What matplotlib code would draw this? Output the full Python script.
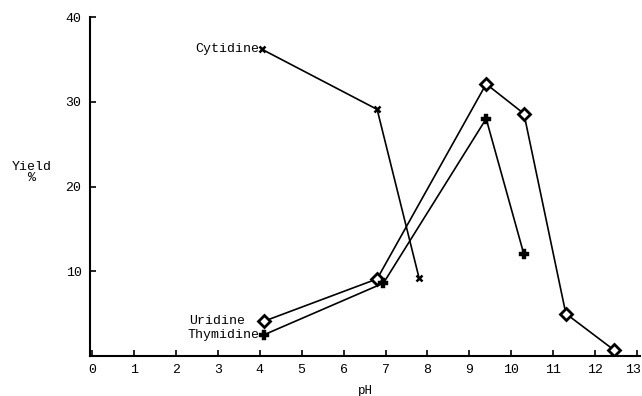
import matplotlib
matplotlib.use('Agg')
import matplotlib.pyplot as plt
import matplotlib.transforms as mtransforms

plt.rcParams['font.family'] = ['Liberation Mono', 'DejaVu Sans Mono']

# Data
cyt_ph = [4.05, 6.8, 7.8]
cyt_yield = [36.2, 29.1, 9.2]

uri_ph = [4.1, 6.8, 9.4, 10.3, 11.3, 12.45]
uri_yield = [4.1, 9.1, 32.1, 28.6, 5.0, 0.7]

thy_ph = [4.1, 6.95, 9.4, 10.3]
thy_yield = [2.5, 8.6, 28.0, 12.0]

xticks = list(range(0, 14))
yticks = [10, 20, 30, 40]

fig = plt.figure(figsize=(6.42, 3.96), dpi=100)
ax = fig.add_axes([0.140, 0.101, 0.857, 0.856])

ax.plot(cyt_ph, cyt_yield, color='black', lw=1.2, marker='x', ms=5, mew=1.8)
ax.plot(uri_ph, uri_yield, color='black', lw=1.2, marker='D', ms=6,
        mfc='white', mec='black', mew=2)
ax.plot(thy_ph, thy_yield, color='black', lw=1.2, marker='P', ms=7,
        mfc='black', mec='black', mew=0.3)

ax.text(cyt_ph[0] - 0.05, cyt_yield[0], 'Cytidine', ha='right', va='center', fontsize=9.5)
ax.text(uri_ph[0] - 0.45, uri_yield[0], 'Uridine', ha='right', va='center', fontsize=9.5)
ax.text(thy_ph[0] - 0.1, thy_yield[0], 'Thymidine', ha='right', va='center', fontsize=9.5)

ax.set_xlim(-0.05, 13.07)
ax.set_ylim(0, 40)
ax.set_xticks(xticks)
ax.set_yticks(yticks)
ax.tick_params(direction='in', length=4, width=1.2, labelsize=9.5, pad=6)
for s in ['top', 'right']:
    ax.spines[s].set_visible(False)
for s in ['left', 'bottom']:
    ax.spines[s].set_linewidth(1.5)

# keep the last tick label inside the figure
last = ax.get_xticklabels()[-1]
last.set_transform(last.get_transform() +
                   mtransforms.ScaledTranslation(-4 / 100, 0, fig.dpi_scale_trans))

ax.set_xlabel('pH', fontsize=9, labelpad=6)
fig.text(0.05, 0.565, 'Yield\n%', ha='center', va='center', fontsize=9.5, linespacing=0.9)

plt.savefig('out.png', dpi=100)
